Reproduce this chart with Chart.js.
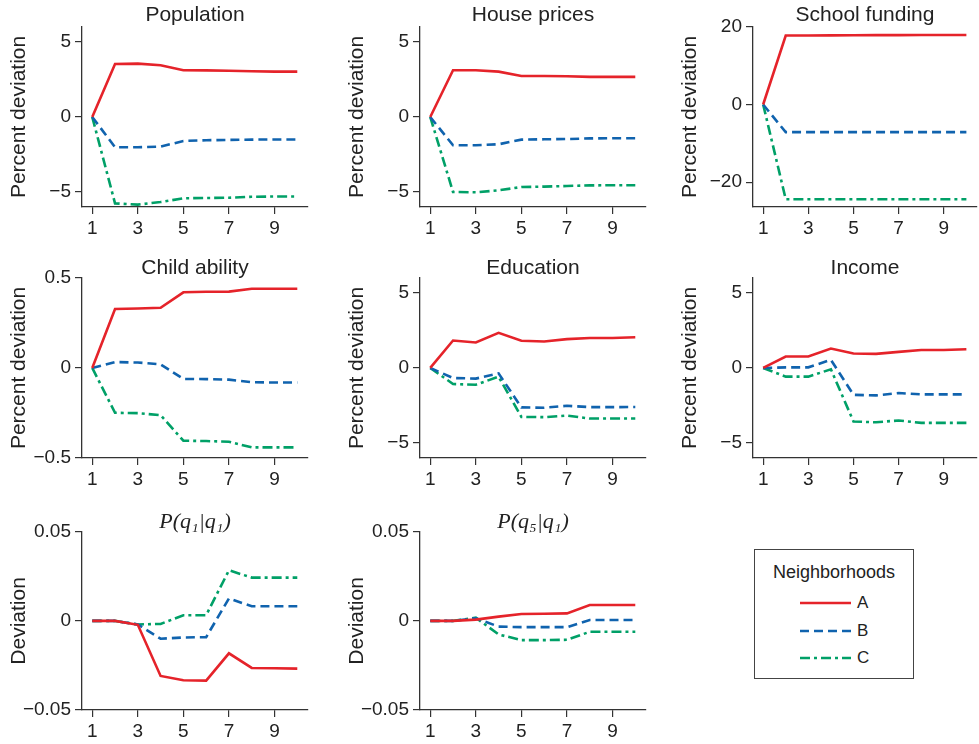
<!DOCTYPE html>
<html>
<head>
<meta charset="utf-8">
<script src="https://cdn.jsdelivr.net/npm/chart.js@4.4.1/dist/chart.umd.min.js"></script>
<style>
  html, body { margin:0; padding:0; width:979px; height:744px; overflow:hidden; background:#fff; }
  canvas { position:absolute; }
  #legend { position:absolute; left:754px; top:549px; width:160px; height:130px; box-sizing:border-box;
            border:1px solid #444; font-family:'Liberation Sans', Arial, sans-serif; color:#222; }
  #legend .ttl { position:absolute; left:0; width:100%; top:12px; text-align:center; font-size:18px; }
  #legend .row { position:absolute; left:45px; height:20px; }
  #legend .row svg { position:absolute; left:0; top:0; }
  #legend .row span { position:absolute; left:57px; top:0px; font-size:17px; }
</style>
</head>
<body>
<canvas id="c1" width="312" height="241" style="left:0px;top:0px"></canvas>
<canvas id="c2" width="312" height="241" style="left:338px;top:0px"></canvas>
<canvas id="c3" width="308" height="241" style="left:671px;top:0px"></canvas>
<canvas id="c4" width="312" height="242" style="left:0px;top:250px"></canvas>
<canvas id="c5" width="312" height="242" style="left:338px;top:250px"></canvas>
<canvas id="c6" width="308" height="242" style="left:671px;top:250px"></canvas>
<canvas id="c7" width="312" height="244" style="left:0px;top:500px"></canvas>
<canvas id="c8" width="312" height="244" style="left:338px;top:500px"></canvas>
<div id="legend">
  <div class="ttl">Neighborhoods</div>
  <div class="row" style="top:43px"><svg width="52" height="20"><line x1="0" y1="10" x2="51" y2="10" stroke="#e5232a" stroke-width="2.6"/></svg><span>A</span></div>
  <div class="row" style="top:71px"><svg width="52" height="20"><line x1="0" y1="10" x2="51" y2="10" stroke="#1063ae" stroke-width="2.6" stroke-dasharray="9 5"/></svg><span>B</span></div>
  <div class="row" style="top:98px"><svg width="52" height="20"><line x1="0" y1="10" x2="51" y2="10" stroke="#00a067" stroke-width="2.6" stroke-dasharray="10 4 3 4"/></svg><span>C</span></div>
</div>
<script>
const periods = [1, 2, 3, 4, 5, 6, 7, 8, 9, 10];
const xTickValues = [1, 3, 5, 7, 9];

const populationA = [0, 3.53, 3.55, 3.44, 3.11, 3.10, 3.08, 3.04, 3.02, 3.02];
const populationB = [0, -2.02, -2.02, -1.98, -1.60, -1.55, -1.53, -1.51, -1.50, -1.50];
const populationC = [0, -5.76, -5.84, -5.67, -5.42, -5.40, -5.38, -5.32, -5.30, -5.30];

const housePricesA = [0, 3.11, 3.11, 3.02, 2.73, 2.73, 2.71, 2.67, 2.67, 2.67];
const housePricesB = [0, -1.89, -1.89, -1.82, -1.51, -1.49, -1.47, -1.43, -1.42, -1.42];
const housePricesC = [0, -5.00, -5.02, -4.89, -4.67, -4.64, -4.60, -4.56, -4.55, -4.55];

const schoolFundingA = [0, 17.77, 17.80, 17.82, 17.85, 17.87, 17.88, 17.90, 17.90, 17.90];
const schoolFundingB = [0, -7.12, -7.10, -7.10, -7.10, -7.10, -7.10, -7.10, -7.10, -7.10];
const schoolFundingC = [0, -24.4, -24.4, -24.4, -24.4, -24.4, -24.4, -24.4, -24.4, -24.4];

const childAbilityA = [0, 0.327, 0.330, 0.334, 0.420, 0.423, 0.424, 0.440, 0.440, 0.440];
const childAbilityB = [0, 0.033, 0.030, 0.020, -0.061, -0.062, -0.065, -0.079, -0.081, -0.081];
const childAbilityC = [0, -0.249, -0.251, -0.262, -0.404, -0.406, -0.410, -0.441, -0.441, -0.441];

const educationA = [0, 1.83, 1.70, 2.34, 1.81, 1.76, 1.92, 2.00, 2.00, 2.05];
const educationB = [0, -0.67, -0.71, -0.36, -2.63, -2.65, -2.52, -2.61, -2.61, -2.60];
const educationC = [0, -1.07, -1.12, -0.58, -3.26, -3.28, -3.17, -3.37, -3.37, -3.37];

const incomeA = [0, 0.76, 0.76, 1.29, 0.96, 0.94, 1.07, 1.20, 1.20, 1.25];
const incomeB = [0, 0.04, 0.04, 0.54, -1.79, -1.83, -1.67, -1.76, -1.76, -1.76];
const incomeC = [0, -0.58, -0.58, -0.09, -3.57, -3.62, -3.50, -3.66, -3.66, -3.66];

const pq1q1A = [0, 0, -0.0022, -0.0309, -0.0333, -0.0335, -0.0182, -0.0264, -0.0266, -0.0268];
const pq1q1B = [0, 0, -0.0020, -0.0100, -0.0093, -0.0091, 0.0126, 0.0082, 0.0082, 0.0082];
const pq1q1C = [0, 0, -0.0020, -0.0017, 0.0032, 0.0032, 0.0284, 0.0243, 0.0243, 0.0243];

const pq5q1A = [0, 0, 0.0007, 0.0024, 0.0039, 0.0040, 0.0042, 0.0089, 0.0089, 0.0089];
const pq5q1B = [0, 0, 0.0015, -0.0032, -0.0035, -0.0035, -0.0035, 0.0005, 0.0005, 0.0005];
const pq5q1C = [0, 0, 0.0018, -0.0076, -0.0108, -0.0108, -0.0106, -0.0061, -0.0061, -0.0061];

const seriesNames = ['A', 'B', 'C'];
const pctTicks = [-5, 0, 5];
const schoolTicks = [-20, 0, 20];
const childTicks = [-0.5, 0, 0.5];
const probTicks = [-0.05, 0, 0.05];

const SANS = "'Liberation Sans', Arial, Helvetica, sans-serif";
const SERIF = "'Liberation Serif', 'DejaVu Serif', serif";
const AXIS = '#333333';
const TEXT = '#222222';
const STYLES = [
  { color: '#e5232a', dash: [] },
  { color: '#1063ae', dash: [9, 5] },
  { color: '#00a067', dash: [10, 4, 3, 4] }
];

function fmt(v) {
  if (v === 0) return '0';
  const s = String(Math.abs(v));
  return v < 0 ? '\u2212' + s : s;
}

function makeChart(id, p) {
  const lists = [p.a, p.b, p.c];
  new Chart(document.getElementById(id), {
    type: 'line',
    data: {
      datasets: lists.map((vals, k) => ({
        label: seriesNames[k],
        data: periods.map((x, i) => ({ x: x, y: vals[i] })),
        borderColor: STYLES[k].color,
        borderDash: STYLES[k].dash,
        borderWidth: 2.6,
        pointRadius: 0,
        tension: 0,
        fill: false
      }))
    },
    options: {
      responsive: false,
      animation: false,
      devicePixelRatio: 1,
      layout: { padding: { top: 0, left: 0, right: p.rp, bottom: 0 } },
      plugins: {
        legend: { display: false },
        tooltip: { enabled: false },
        title: {
          display: true,
          text: p.title,
          fullSize: false,
          color: TEXT,
          font: p.titleFont,
          padding: { top: p.tp, bottom: p.tb }
        }
      },
      scales: {
        x: {
          type: 'linear',
          min: 0.55,
          max: 10.47,
          afterBuildTicks: s => { s.ticks = xTickValues.map(v => ({ value: v })); },
          afterFit: s => { s.height = 34; },
          grid: { drawOnChartArea: false, drawTicks: true, tickLength: 7, color: AXIS, lineWidth: 1.2 },
          border: { display: true, color: AXIS, width: 1.3 },
          ticks: { color: TEXT, font: { family: SANS, size: 19 }, padding: 3, maxRotation: 0, autoSkip: false }
        },
        y: {
          type: 'linear',
          min: p.ymin,
          max: p.ymax,
          afterBuildTicks: s => { s.ticks = p.yticks.map(v => ({ value: v })); },
          afterFit: s => { s.width = 82; },
          grid: { drawOnChartArea: false, drawTicks: true, tickLength: 7, color: AXIS, lineWidth: 1.2 },
          border: { display: true, color: AXIS, width: 1.3 },
          ticks: { color: TEXT, font: { family: SANS, size: 19 }, padding: 4, autoSkip: false, callback: v => fmt(v) },
          title: { display: true, text: p.ytitle, color: TEXT, font: { family: SANS, size: 21, lineHeight: 1.2 }, padding: { top: 7, bottom: 0 } }
        }
      }
    }
  });
}

const sansTitle = { family: SANS, size: 21, weight: 'normal', lineHeight: 0.9 };
const mathTitle = { family: SERIF, size: 22, style: 'italic', weight: 'normal', lineHeight: 0.9 };

makeChart('c1', { title: 'Population', a: populationA, b: populationB, c: populationC, ymin: -6, ymax: 6, yticks: pctTicks, ytitle: 'Percent deviation', tp: 6, tb: 2, rp: 4, titleFont: sansTitle });
makeChart('c2', { title: 'House prices', a: housePricesA, b: housePricesB, c: housePricesC, ymin: -6, ymax: 6, yticks: pctTicks, ytitle: 'Percent deviation', tp: 6, tb: 2, rp: 4, titleFont: sansTitle });
makeChart('c3', { title: 'School funding', a: schoolFundingA, b: schoolFundingB, c: schoolFundingC, ymin: -26.4, ymax: 20, yticks: schoolTicks, ytitle: 'Percent deviation', tp: 6, tb: 2, rp: 2, titleFont: sansTitle });
makeChart('c4', { title: 'Child ability', a: childAbilityA, b: childAbilityB, c: childAbilityC, ymin: -0.5, ymax: 0.5, yticks: childTicks, ytitle: 'Percent deviation', tp: 9, tb: 0, rp: 4, titleFont: sansTitle });
makeChart('c5', { title: 'Education', a: educationA, b: educationB, c: educationC, ymin: -6, ymax: 6, yticks: pctTicks, ytitle: 'Percent deviation', tp: 9, tb: 0, rp: 4, titleFont: sansTitle });
makeChart('c6', { title: 'Income', a: incomeA, b: incomeB, c: incomeC, ymin: -6, ymax: 6, yticks: pctTicks, ytitle: 'Percent deviation', tp: 9, tb: 0, rp: 2, titleFont: sansTitle });
makeChart('c7', { title: 'P(q\u2081|q\u2081)', a: pq1q1A, b: pq1q1B, c: pq1q1C, ymin: -0.05, ymax: 0.05, yticks: probTicks, ytitle: 'Deviation', tp: 12, tb: 0, rp: 4, titleFont: mathTitle });
makeChart('c8', { title: 'P(q\u2085|q\u2081)', a: pq5q1A, b: pq5q1B, c: pq5q1C, ymin: -0.05, ymax: 0.05, yticks: probTicks, ytitle: 'Deviation', tp: 12, tb: 0, rp: 4, titleFont: mathTitle });
</script>
</body>
</html>
